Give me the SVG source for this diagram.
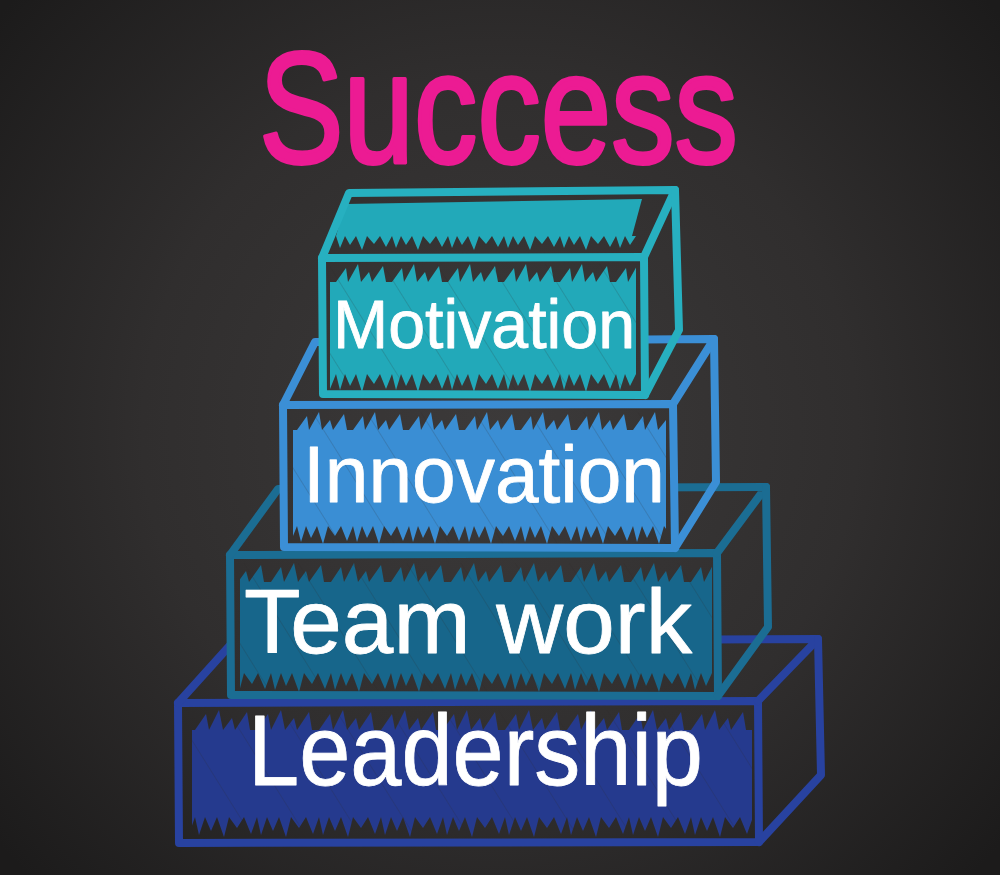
<svg xmlns="http://www.w3.org/2000/svg" width="1000" height="875" viewBox="0 0 1000 875">
<defs>
<radialGradient id="bg" gradientUnits="userSpaceOnUse" cx="500" cy="430" r="650">
<stop offset="0" stop-color="#3c3a3a"/>
<stop offset="0.55" stop-color="#302e2e"/>
<stop offset="1" stop-color="#1c1b1b"/>
</radialGradient>
<pattern id="hatch" patternUnits="userSpaceOnUse" width="46" height="46" patternTransform="rotate(-32)">
<line x1="0" y1="0" x2="0" y2="46" stroke="#2a2929" stroke-width="1" stroke-opacity="0.35"/>
</pattern>
<!-- box1 teal -->
<pattern id="u1" patternUnits="userSpaceOnUse" x="0" y="264" width="56" height="18"><path d="M0,18 L10,4 L12,18 L22,0 L25,18 L33,8 L36,18 L47,2 L50,18 L56,18 Z" fill="#22a9b9"/></pattern>
<pattern id="d1" patternUnits="userSpaceOnUse" x="0" y="374" width="56" height="18"><path d="M0,0 L4,16 L9,0 L14,12 L20,0 L26,18 L31,0 L38,10 L44,0 L50,15 L56,0 Z" fill="#22a9b9"/></pattern>
<pattern id="t1" patternUnits="userSpaceOnUse" x="0" y="236" width="56" height="14"><path d="M0,0 L4,12 L9,0 L14,9 L20,0 L26,14 L31,0 L38,8 L44,0 L50,11 L56,0 Z" fill="#22a9b9"/></pattern>
<!-- box2 blue -->
<pattern id="u2" patternUnits="userSpaceOnUse" x="17" y="412" width="56" height="18"><path d="M0,18 L10,4 L12,18 L22,0 L25,18 L33,8 L36,18 L47,2 L50,18 L56,18 Z" fill="#3a8ed4"/></pattern>
<pattern id="d2" patternUnits="userSpaceOnUse" x="17" y="526" width="56" height="18"><path d="M0,0 L4,16 L9,0 L14,12 L20,0 L26,18 L31,0 L38,10 L44,0 L50,15 L56,0 Z" fill="#3a8ed4"/></pattern>
<!-- box3 dark teal -->
<pattern id="u3" patternUnits="userSpaceOnUse" x="31" y="563" width="60" height="19"><path d="M0,19 L10,4 L13,19 L23,0 L27,19 L35,8 L38,19 L50,2 L53,19 L60,19 Z" fill="#17668b"/></pattern>
<pattern id="d3" patternUnits="userSpaceOnUse" x="31" y="673" width="60" height="19"><path d="M0,0 L4,17 L10,0 L15,13 L21,0 L28,19 L33,0 L41,11 L47,0 L54,16 L60,0 Z" fill="#17668b"/></pattern>
<!-- box4 navy -->
<pattern id="u4" patternUnits="userSpaceOnUse" x="9" y="710" width="62" height="20"><path d="M0,20 L11,4 L14,20 L24,0 L28,20 L37,8 L40,20 L52,2 L55,20 L62,20 Z" fill="#253a8e"/></pattern>
<pattern id="d4" patternUnits="userSpaceOnUse" x="9" y="817" width="62" height="20"><path d="M0,0 L4,18 L10,0 L16,14 L22,0 L29,20 L34,0 L42,11 L49,0 L56,17 L62,0 Z" fill="#253a8e"/></pattern>
<style>
.edge{fill:none;stroke-width:8;stroke-linejoin:round;stroke-linecap:round}
.face{fill:url(#bg)}
.lbl{font-family:"Liberation Sans","Arial",sans-serif;fill:#ffffff;stroke:#ffffff;stroke-width:0.8;stroke-linejoin:round}
.title{font-family:"Liberation Sans","Arial",sans-serif;fill:#ec1b93;stroke:#ec1b93;stroke-width:4;stroke-linejoin:round}
</style>
</defs>

<rect width="1000" height="875" fill="url(#bg)"/>

<g id="title">
<text class="title" x="259" y="162" font-size="158" textLength="479" lengthAdjust="spacingAndGlyphs">Success</text>
</g>

<g id="box-leadership">
<path class="face" d="M178,703 L758,701 L759,842 L179,843 Z"/>
<rect x="192" y="730" width="560" height="87" fill="#253a8e"/>
<rect x="192" y="710" width="560" height="20" fill="url(#u4)"/>
<rect x="192" y="817" width="560" height="20" fill="url(#d4)"/>
<rect x="192" y="710" width="560" height="127" fill="url(#hatch)"/>
<g stroke="#2842a0">
<path class="edge" d="M178,703 L758,701 L759,842 L179,843 Z"/>
<path class="edge" d="M178,703 L233,642 L818,639 L758,701"/>
<path class="edge" d="M818,639 L821,775 L759,842"/>
</g>
<text class="lbl" x="248" y="785" font-size="100" textLength="455" lengthAdjust="spacingAndGlyphs">Leadership</text>
</g>

<g id="box-teamwork">
<path class="face" d="M230,555 L717,553 L718,696 L231,695 Z"/>
<rect x="240" y="582" width="472" height="91" fill="#17668b"/>
<rect x="240" y="563" width="472" height="19" fill="url(#u3)"/>
<rect x="240" y="673" width="472" height="19" fill="url(#d3)"/>
<rect x="240" y="563" width="472" height="129" fill="url(#hatch)"/>
<g stroke="#1b6d93">
<path class="edge" d="M230,555 L717,553 L718,696 L231,695 Z"/>
<path class="edge" d="M230,555 L278,489 L766,487 L717,553"/>
<path class="edge" d="M766,487 L768,627 L718,696"/>
</g>
<text class="lbl" x="244" y="653" font-size="90" textLength="448" lengthAdjust="spacingAndGlyphs">Team work</text>
</g>

<g id="box-innovation">
<path class="face" d="M283,405 L673,404 L675,548 L284,547 Z"/>
<rect x="293" y="430" width="373" height="96" fill="#3a8ed4"/>
<rect x="293" y="412" width="373" height="18" fill="url(#u2)"/>
<rect x="293" y="526" width="373" height="18" fill="url(#d2)"/>
<rect x="293" y="412" width="373" height="132" fill="url(#hatch)"/>
<g stroke="#3b8fd6">
<path class="edge" d="M283,405 L673,404 L675,548 L284,547 Z"/>
<path class="edge" d="M283,405 L315,342 L714,339 L673,404"/>
<path class="edge" d="M714,339 L716,482 L675,548"/>
</g>
<text class="lbl" x="303" y="502" font-size="80" textLength="362" lengthAdjust="spacingAndGlyphs">Innovation</text>
</g>

<g id="box-motivation">
<path class="face" d="M322,258 L644,257 L645,395 L323,394 Z"/>
<path d="M345,204 L642,199 L632,236 L336,236 Z" fill="#22a9b9"/>
<rect x="336" y="236" width="300" height="14" fill="url(#t1)"/>
<rect x="330" y="282" width="306" height="92" fill="#22a9b9"/>
<rect x="330" y="264" width="306" height="18" fill="url(#u1)"/>
<rect x="330" y="374" width="306" height="18" fill="url(#d1)"/>
<rect x="330" y="264" width="306" height="128" fill="url(#hatch)"/>
<g stroke="#27b0c0">
<path class="edge" d="M322,258 L644,257 L645,395 L323,394 Z"/>
<path class="edge" d="M322,258 L349,193 L675,190 L644,257"/>
<path class="edge" d="M675,190 L679,330 L645,395"/>
</g>
<text class="lbl" x="333" y="348" font-size="68" textLength="302" lengthAdjust="spacingAndGlyphs">Motivation</text>
</g>
</svg>
